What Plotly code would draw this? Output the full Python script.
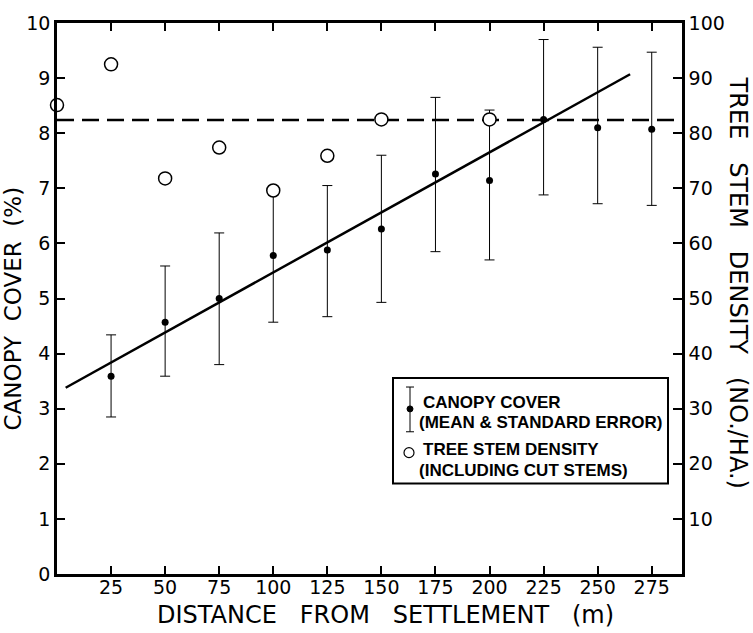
import plotly.graph_objects as go

# ---- data ----
distance = [25, 50, 75, 100, 125, 150, 175, 200, 225, 250, 275]
canopy_mean = [3.59, 4.57, 5.00, 5.78, 5.88, 6.26, 7.26, 7.14, 8.25, 8.10, 8.07]
canopy_upper = [4.34, 5.59, 6.19, 6.93, 7.05, 7.60, 8.65, 8.42, 9.70, 9.56, 9.47]
canopy_lower = [2.85, 3.59, 3.80, 4.57, 4.67, 4.93, 5.85, 5.70, 6.88, 6.72, 6.69]

stem_distance = [0, 25, 50, 75, 100, 125, 150, 200]
stem_density = [85.1, 92.5, 71.8, 77.4, 69.6, 75.9, 82.5, 82.5]

stem_mean_x = [0, 289]
stem_mean_y = [82.4, 82.4]

fit_x = [4, 265]
fit_y = [3.38, 9.07]

x_ticks = [25, 50, 75, 100, 125, 150, 175, 200, 225, 250, 275]
y_ticks = list(range(0, 11))
y2_ticks = [10, 20, 30, 40, 50, 60, 70, 80, 90, 100]

FONT = "DejaVu Sans"
GAP2 = "\u00a0\u00a0"
GAP3 = "\u00a0\u00a0\u00a0"

err_plus = [u - m for u, m in zip(canopy_upper, canopy_mean)]
err_minus = [m - l for m, l in zip(canopy_mean, canopy_lower)]

fig = go.Figure()

fig.add_trace(go.Scatter(
    x=stem_mean_x, y=stem_mean_y, yaxis="y2", mode="lines",
    line=dict(color="black", width=2.5, dash="17px,8px"), showlegend=False))

fig.add_trace(go.Scatter(
    x=fit_x, y=fit_y, mode="lines",
    line=dict(color="black", width=2.5), showlegend=False))

fig.add_trace(go.Scatter(
    x=distance, y=canopy_mean, mode="markers",
    marker=dict(color="black", size=7),
    error_y=dict(type="data", symmetric=False, array=err_plus,
                 arrayminus=err_minus, color="black", thickness=1, width=5),
    showlegend=False))

fig.add_trace(go.Scatter(
    x=stem_distance, y=stem_density, yaxis="y2", mode="markers",
    marker=dict(color="white", size=13, line=dict(color="black", width=1.5)),
    cliponaxis=False, showlegend=False))

# ---- legend (drawn) ----
L, R, T, B = 57, 682, 20, 574
def px(x):
    return (x - L) / (R - L)
def py(y):
    return (B - y) / (B - T)

shapes = [
    dict(type="rect", xref="paper", yref="paper", x0=px(393), x1=px(668),
         y0=py(377), y1=py(483), line=dict(color="black", width=2), fillcolor="white",
         layer="above"),
    dict(type="line", xref="paper", yref="paper", x0=px(410), x1=px(410),
         y0=py(386), y1=py(431), line=dict(color="black", width=1)),
    dict(type="line", xref="paper", yref="paper", x0=px(406), x1=px(414),
         y0=py(386), y1=py(386), line=dict(color="black", width=1)),
    dict(type="line", xref="paper", yref="paper", x0=px(406), x1=px(414),
         y0=py(431), y1=py(431), line=dict(color="black", width=1)),
    dict(type="circle", xref="paper", yref="paper", x0=px(407), x1=px(413),
         y0=py(405), y1=py(411), line=dict(color="black", width=1), fillcolor="black"),
    dict(type="circle", xref="paper", yref="paper", x0=px(404), x1=px(414),
         y0=py(447), y1=py(457), line=dict(color="black", width=1.2), fillcolor="white"),
]

leg_font = dict(family="Liberation Sans", size=17, color="black")
annotations = []
for txt, xx, yy in [("<b>CANOPY COVER</b>", 421, 402),
                    ("<b>(MEAN &amp; STANDARD ERROR)</b>", 417, 422),
                    ("<b>TREE STEM DENSITY</b>", 421, 449),
                    ("<b>(INCLUDING CUT STEMS)</b>", 417, 470)]:
    annotations.append(dict(text=txt, xref="paper", yref="paper", x=px(xx), y=py(yy),
                            xanchor="left", yanchor="middle", showarrow=False,
                            font=leg_font))

annotations.append(dict(text=f"CANOPY{GAP2}COVER{GAP2}(%)", xref="paper", yref="paper",
                        x=px(13), y=py(307), textangle=-90, showarrow=False,
                        xanchor="center", yanchor="middle",
                        font=dict(family=FONT, size=23, color="black")))
annotations.append(dict(text=f"TREE{GAP3}STEM{GAP3}DENSITY{GAP3}(NO./HA.)", xref="paper", yref="paper",
                        x=px(738), y=py(281), textangle=90, showarrow=False,
                        xanchor="center", yanchor="middle",
                        font=dict(family=FONT, size=24, color="black")))
annotations.append(dict(text=f"DISTANCE{GAP3}FROM{GAP3}SETTLEMENT{GAP3}(m)", xref="paper", yref="paper",
                        x=px(385), y=py(615), showarrow=False,
                        xanchor="center", yanchor="middle",
                        font=dict(family=FONT, size=24, color="black")))

fig.update_layout(
    width=753, height=633,
    margin=dict(l=L, r=753 - R, t=T, b=633 - B),
    paper_bgcolor="white", plot_bgcolor="white",
    font=dict(family=FONT, size=19, color="black"),
    showlegend=False,
    shapes=shapes, annotations=annotations,
    xaxis=dict(range=[0, 289], tickvals=x_ticks, ticks="inside", ticklen=8,
               tickwidth=2, tickcolor="black", showline=True, linewidth=2.5,
               linecolor="black", mirror="ticks", showgrid=False, zeroline=False,
               ticklabelstandoff=-6,
               tickfont=dict(family=FONT, size=19)),
    yaxis=dict(range=[0, 10], tickvals=y_ticks, ticks="inside", ticklen=8,
               tickwidth=2, tickcolor="black", showline=True, linewidth=2.5,
               linecolor="black", showgrid=False, zeroline=False,
               tickfont=dict(family=FONT, size=19)),
    yaxis2=dict(range=[0, 100], tickvals=y2_ticks, ticks="inside", ticklen=9,
                tickwidth=2, tickcolor="black", showline=True, linewidth=2.5,
                linecolor="black", overlaying="y", side="right", showgrid=False,
                zeroline=False, tickfont=dict(family=FONT, size=19)),
)

fig.write_html("out.html")
